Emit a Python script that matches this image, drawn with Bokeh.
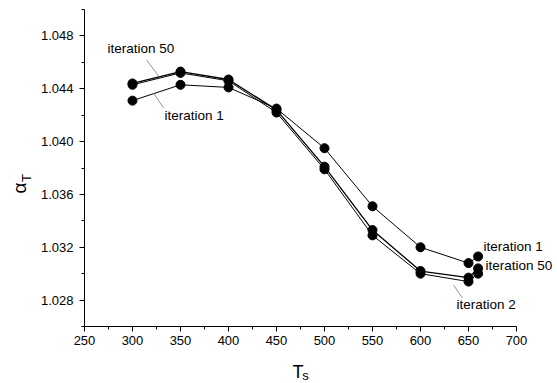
import math
from bokeh.plotting import figure
from bokeh.models import FixedTicker, NumeralTickFormatter, Label, Range1d
from bokeh.embed import file_html
from bokeh.resources import INLINE

# ---- data ----
ts = [300, 350, 400, 450, 500, 550, 600, 650, 660]
iter1 = [1.0431, 1.0443, 1.0441, 1.0425, 1.0395, 1.0351, 1.0320, 1.0308, 1.0313]
iter2 = [1.0443, 1.0452, 1.0446, 1.0422, 1.0379, 1.0329, 1.0300, 1.0294, 1.0300]
iter50 = [1.0444, 1.0453, 1.0447, 1.0424, 1.0381, 1.0333, 1.0302, 1.0297, 1.0304]

x_ticks = [250, 300, 350, 400, 450, 500, 550, 600, 650, 700]
x_minor = [275, 325, 375, 425, 475, 525, 575, 625, 675]
y_ticks = [1.028, 1.032, 1.036, 1.040, 1.044, 1.048]
y_minor = [1.026, 1.030, 1.034, 1.038, 1.042, 1.046, 1.050]

# annotation texts (data-space anchors) and their leader lines
ann_text = ["iteration 50", "iteration 1", "iteration 1", "iteration 50", "iteration 2"]
ann_x = [274.0, 333.3, 665.6, 667.7, 637.5]
ann_y = [1.04702, 1.04201, 1.03209, 1.03065, 1.02770]
lead_x0 = [314.6, 321.9, 634.4]
lead_y0 = [1.04618, 1.04368, 1.02914]
lead_x1 = [327.1, 332.3, 643.75]
lead_y1 = [1.04497, 1.04255, 1.02815]

FONT = "Liberation Sans"

# frame extends to the right edge so that the right-hand labels are not clipped;
# the x axis itself is bounded to 250..700
X_END = 700 + 40 / 0.96

p = figure(width=557, height=383, output_backend="svg", toolbar_location=None,
           x_range=Range1d(250, X_END), y_range=Range1d(1.026, 1.050),
           min_border_left=84, min_border_right=1, min_border_top=9, min_border_bottom=57)
p.outline_line_color = None
p.background_fill_color = "white"
p.border_fill_color = "white"
p.xgrid.visible = False
p.ygrid.visible = False

for ax, ticks, minor in ((p.xaxis[0], x_ticks, x_minor), (p.yaxis[0], y_ticks, y_minor)):
    ax.ticker = FixedTicker(ticks=ticks, minor_ticks=minor)
    ax.axis_line_color = "black"
    ax.axis_line_width = 1
    ax.major_tick_line_color = "black"
    ax.minor_tick_line_color = "black"
    ax.major_tick_in = 0
    ax.major_tick_out = 5
    ax.minor_tick_in = 0
    ax.minor_tick_out = 3
    ax.major_label_text_font = FONT
    ax.major_label_text_font_size = "13px"
    ax.major_label_text_color = "black"
p.xaxis[0].bounds = (250, 700)
p.yaxis[0].formatter = NumeralTickFormatter(format="0.000")
p.yaxis[0].major_label_standoff = 6
p.xaxis[0].major_label_standoff = 4

# series
p.line(ts, iter1, line_color="black", line_width=1)
p.line(ts, iter2, line_color="black", line_width=1)
p.line(ts, iter50, line_color="black", line_width=1.3)
for ys in (iter1, iter2, iter50):
    p.scatter(ts, ys, size=9, fill_color="black", line_color="black")

# leader lines
p.segment(lead_x0, lead_y0, lead_x1, lead_y1, line_color="#777777", line_width=0.8)

for t, x, y in zip(ann_text, ann_x, ann_y):
    p.add_layout(Label(x=x, y=y, text=t, text_font=FONT, text_font_size="13.5px",
                       text_align="left", text_baseline="middle", text_color="black"))

# axis titles (alpha_T and T_s): placed in side panels (not clipped to the frame),
# positioned through the plot's data scales
titles = [
    ("left", dict(x=182.4, y=1.03648, text="α", angle=math.pi / 2, text_font_size="19px")),
    ("left", dict(x=189.7, y=1.03724, text="T", angle=math.pi / 2, text_font_size="13px")),
    ("below", dict(x=472.4, y=1.02254, text="T", angle=0, text_font_size="18px")),
    ("below", dict(x=480.2, y=1.02228, text="s", angle=0, text_font_size="13px")),
]
for side, t in titles:
    p.add_layout(Label(text_font=FONT, text_align="center", text_baseline="middle",
                       text_color="black", **t), side)

open("out.html", "w").write(file_html(p, INLINE))
